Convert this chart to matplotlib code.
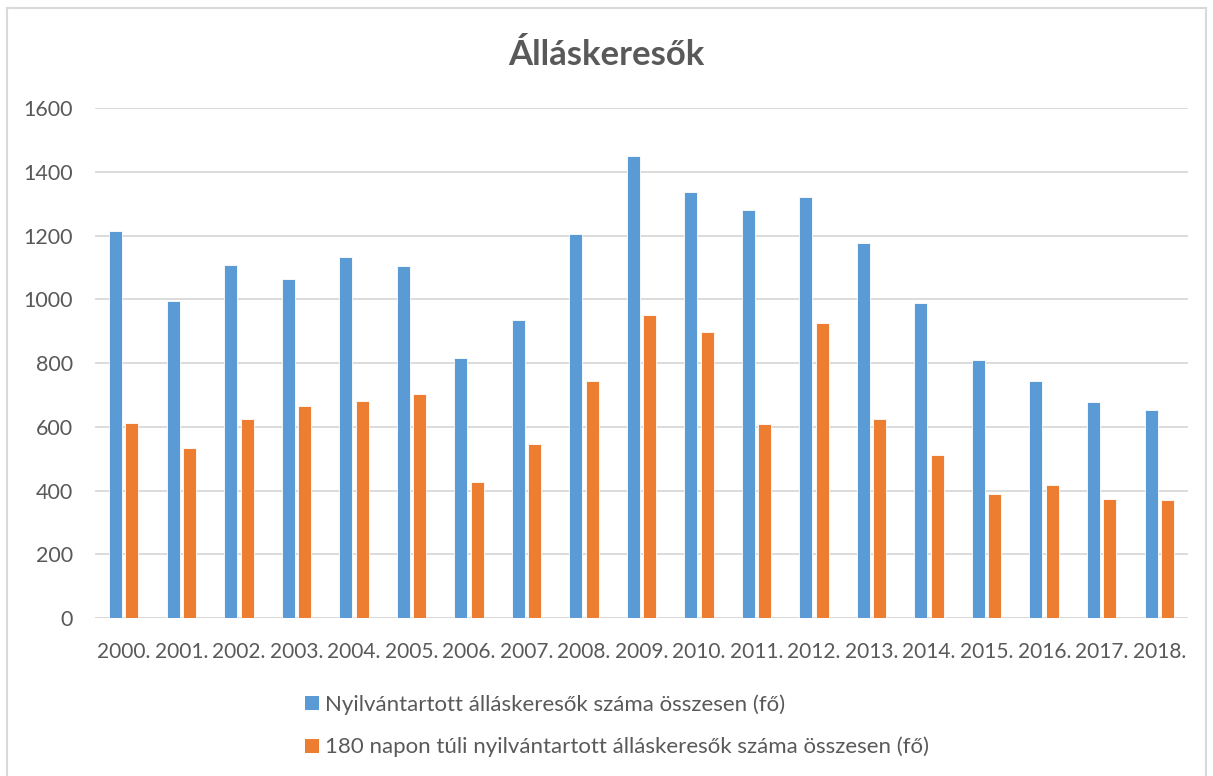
import numpy as np
import matplotlib
matplotlib.use('Agg')
import matplotlib.pyplot as plt
from matplotlib.patches import Patch
from matplotlib.lines import Line2D

# ============================= Data ===============================
years = ['2000.', '2001.', '2002.', '2003.', '2004.', '2005.', '2006.', '2007.',
         '2008.', '2009.', '2010.', '2011.', '2012.', '2013.', '2014.', '2015.',
         '2016.', '2017.', '2018.']
osszes = [1213, 995, 1109, 1065, 1133, 1104, 816, 936, 1205, 1449, 1337, 1281,
          1320, 1175, 988, 811, 745, 678, 653]
tartos = [612, 533, 625, 666, 680, 702, 427, 545, 745, 952, 898, 608, 925, 625,
          512, 389, 417, 372, 369]
label_osszes = 'Nyilvántartott álláskeresők száma összesen (fő)'
label_tartos = '180 napon túli nyilvántartott álláskeresők száma összesen (fő)'

blue = '#5B9BD5'
orange = '#ED7D31'
grey_txt = '#595959'
grid_col = '#D9D9D9'

plt.rcParams['font.family'] = ['Lato', 'DejaVu Sans']

fig = plt.figure(figsize=(12.13, 7.76), dpi=100)
ax = fig.add_axes([0.0783, 0.2036, 0.9011, 0.6572])

x = np.arange(len(years))
w = 0.226
ax.bar(x - 0.143, osszes, w, color=blue, edgecolor='white', linewidth=0.6, zorder=3)
ax.bar(x + 0.143, tartos, w, color=orange, edgecolor='white', linewidth=0.6, zorder=3)

ax.set_xlim(-0.5, len(years) - 0.5)
ax.set_ylim(0, 1600)
ax.set_yticks(range(0, 1601, 200))
ax.set_xticks(x)
ax.set_xticklabels(years)
ax.grid(axis='y', color=grid_col, linewidth=1.3, zorder=0)
for s in ['top', 'right', 'left', 'bottom']:
    ax.spines[s].set_visible(False)
ax.axhline(0, color=grid_col, linewidth=1.3, zorder=2)
ax.tick_params(axis='both', length=0, labelsize=15, labelcolor=grey_txt)
ax.tick_params(axis='y', pad=16, labelsize=15.5)
ax.tick_params(axis='x', pad=17)

fig.text(0.5, 0.929, 'Álláskeresők', ha='center', va='center',
         fontsize=25, fontweight='bold', color=grey_txt)

handles = [Patch(facecolor=blue, label=label_osszes),
           Patch(facecolor=orange, label=label_tartos)]
fig.legend(handles=handles, loc='upper left', bbox_to_anchor=(0.2425, 0.12),
           frameon=False, fontsize=16, labelcolor=grey_txt, handlelength=0.6,
           handleheight=0.6, handletextpad=0.3, labelspacing=1.0, borderpad=0)

# chart border
fig.add_artist(Line2D([0.0058, 0.0058], [0, 0.99], color=grid_col, linewidth=1.5))
fig.add_artist(Line2D([0.0058, 0.994], [0.99, 0.99], color=grid_col, linewidth=1.5))
fig.add_artist(Line2D([0.994, 0.994], [0, 0.99], color=grid_col, linewidth=1.5))

fig.savefig('out.png', dpi=100, facecolor='white')
